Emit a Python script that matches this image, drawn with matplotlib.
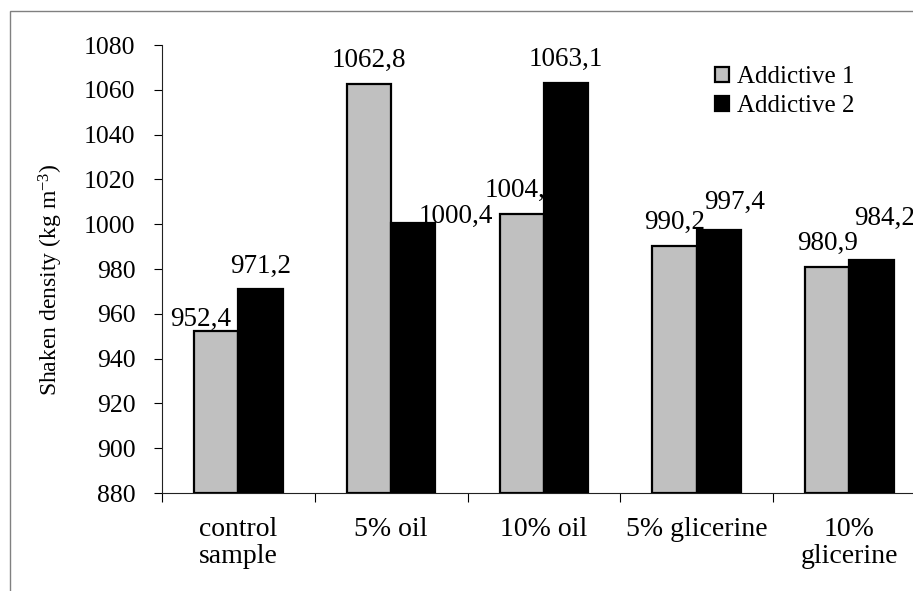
import matplotlib
matplotlib.use("Agg")
import matplotlib.pyplot as plt
from matplotlib.patches import Rectangle
import numpy as np

# ---- data ----
categories = ["control\nsample", "5% oil", "10% oil", "5% glicerine", "10%\nglicerine"]
series_names = ["Addictive 1", "Addictive 2"]
additive1 = [952.4, 1062.8, 1004.6, 990.2, 980.9]
additive2 = [971.2, 1000.4, 1063.1, 997.4, 984.2]
label1 = ["952,4", "1062,8", "1004,6", "990,2", "980,9"]
label2 = ["971,2", "1000,4", "1063,1", "997,4", "984,2"]
yticks = [880, 900, 920, 940, 960, 980, 1000, 1020, 1040, 1060, 1080]

# label placement tweaks (pixels) as in the original Excel chart
dx1 = [-16, 0, 0, 0, 0]
dy1 = [5, 17, 17, 17, 17]
dx2 = [0, 43, 0, 16, 13]
dy2 = [16, 0, 17, 21, 35]

plt.rcParams["font.family"] = ["Liberation Serif", "DejaVu Serif"]
plt.rcParams["mathtext.fontset"] = "custom"
plt.rcParams["mathtext.rm"] = "Liberation Serif"
plt.rcParams["mathtext.it"] = "Liberation Serif:italic"

W, H = 913, 591
DPI = 100
fig = plt.figure(figsize=(W / DPI, H / DPI), dpi=DPI)
PX = 72.0 / DPI  # points per pixel

ax_left, ax_right, ax_top, ax_bot = 162, 925.75, 45, 493
ax = fig.add_axes([ax_left / W, 1 - ax_bot / H, (ax_right - ax_left) / W, (ax_bot - ax_top) / H])

FS_TICK = 18.5
FS_LAB = 19.5
FS_CAT = 20
FS_LEG = 18
FS_Y = 17

x = np.arange(len(categories)) + 0.5
bw = 0.29
b1 = ax.bar(x - bw / 2, [v - 880 for v in additive1], bw, bottom=880, color="#c0c0c0",
            edgecolor="black", linewidth=1.6, zorder=3, label=series_names[0])
b2 = ax.bar(x + bw / 2, [v - 880 for v in additive2], bw, bottom=880, color="black",
            edgecolor="black", linewidth=1.6, zorder=3, label=series_names[1])

for i in range(len(categories)):
    ax.annotate(label1[i], (x[i] - bw / 2, additive1[i]), xytext=(dx1[i] * PX, dy1[i] * PX),
                textcoords="offset points", ha="center", va="baseline", fontsize=FS_LAB,
                zorder=2, annotation_clip=False)
    ax.annotate(label2[i], (x[i] + bw / 2, additive2[i]), xytext=(dx2[i] * PX, dy2[i] * PX),
                textcoords="offset points", ha="center", va="baseline", fontsize=FS_LAB,
                zorder=2, annotation_clip=False)

ax.set_xlim(0, 5)
ax.set_ylim(880, 1080)
ax.set_yticks(yticks)
ax.set_yticklabels([str(t) for t in yticks], fontsize=FS_TICK)
ax.set_xticks(np.arange(0, 6))
ax.set_xticklabels([])
ax.set_xticks(x, minor=True)
ax.set_xticklabels(categories, minor=True, fontsize=FS_CAT)
for t in ax.get_xticklabels(minor=True):
    t.set_multialignment("center")
    t.set_linespacing(1.12)
ax.tick_params(axis="x", which="major", direction="out", length=6.5, width=0.8)
ax.tick_params(axis="x", which="minor", length=0, pad=17)
ax.tick_params(axis="y", direction="out", length=6, width=0.8, pad=13)

for s in ["top", "right"]:
    ax.spines[s].set_visible(False)
for s in ["left", "bottom"]:
    ax.spines[s].set_linewidth(0.8)
    ax.spines[s].set_color("#222222")

fig.text(51 / W, 1 - 280 / H, r"Shaken density (kg m$^{\mathregular{-3}}$)", rotation=90,
         ha="center", va="center", fontsize=FS_Y)

leg = ax.legend(handles=[b1, b2], loc="upper left", bbox_to_anchor=(715 / W, 1 - 66 / H),
                bbox_transform=fig.transFigure, frameon=False, fontsize=FS_LEG,
                handlelength=0.56, handleheight=0.56, handletextpad=0.3,
                labelspacing=0.3, borderpad=0, borderaxespad=0)

fig.add_artist(Rectangle((10 / W, -0.1), 2, 1 - 11 / H + 0.1, transform=fig.transFigure,
                         fill=False, edgecolor="#808080", linewidth=1.0))

fig.savefig("out.png", dpi=DPI)
